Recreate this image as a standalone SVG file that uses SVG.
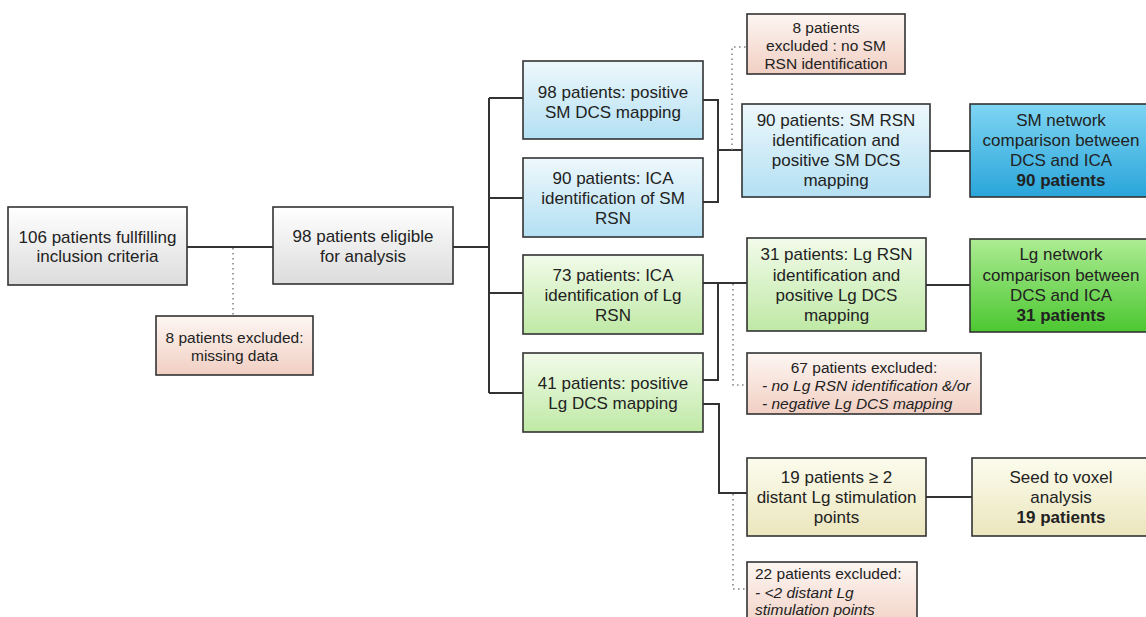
<svg xmlns="http://www.w3.org/2000/svg" width="1146" height="617" viewBox="0 0 1146 617">
<defs>
<linearGradient id="gGray" x1="0" y1="0" x2="0" y2="1"><stop offset="0" stop-color="#ffffff"/><stop offset="1" stop-color="#dcdcdc"/></linearGradient>
<linearGradient id="gBlue" x1="0" y1="0" x2="0" y2="1"><stop offset="0" stop-color="#eef8fc"/><stop offset="1" stop-color="#b3e0f3"/></linearGradient>
<linearGradient id="gBlueD" x1="0" y1="0" x2="0" y2="1"><stop offset="0" stop-color="#7fd5f3"/><stop offset="1" stop-color="#29a5da"/></linearGradient>
<linearGradient id="gGreen" x1="0" y1="0" x2="0" y2="1"><stop offset="0" stop-color="#f2fbea"/><stop offset="1" stop-color="#bfe9a5"/></linearGradient>
<linearGradient id="gGreenD" x1="0" y1="0" x2="0" y2="1"><stop offset="0" stop-color="#adec93"/><stop offset="1" stop-color="#4cc731"/></linearGradient>
<linearGradient id="gYellow" x1="0" y1="0" x2="0" y2="1"><stop offset="0" stop-color="#fcfcee"/><stop offset="1" stop-color="#ebe6bd"/></linearGradient>
<linearGradient id="gPink" x1="0" y1="0" x2="0" y2="1"><stop offset="0" stop-color="#fdf6f2"/><stop offset="1" stop-color="#f1cfc3"/></linearGradient>
</defs>
<style>
.box{stroke:#333;stroke-width:1.6}
.gray{fill:url(#gGray)}
.blue{fill:url(#gBlue)}
.blueD{fill:url(#gBlueD)}
.green{fill:url(#gGreen)}
.greenD{fill:url(#gGreenD)}
.yellow{fill:url(#gYellow)}
.pink{fill:url(#gPink)}
text{font-family:"Liberation Sans",Arial,sans-serif;fill:#222}
.t{font-size:17px;text-anchor:middle}
.s{font-size:15.5px;text-anchor:middle}
.sl{font-size:15.5px}
.i{font-style:italic}
.b{font-weight:bold}
.ln{fill:none;stroke:#333;stroke-width:2}
.dot{fill:none;stroke:#888;stroke-width:1.6;stroke-dasharray:1.6 3.4}
</style>
<rect width="1146" height="617" fill="#ffffff"/>
<g id="connectors">
<path class="ln" d="M187,247H273"/>
<path class="ln" d="M453,247H489"/>
<path class="ln" d="M489,98V393"/>
<path class="ln" d="M489,98H523M489,198H523M489,293H523M489,393H523"/>
<path class="ln" d="M703,100H718V202H703M718,150H742"/>
<path class="ln" d="M930,151H970"/>
<path class="ln" d="M703,283H747M718,283V380H703"/>
<path class="ln" d="M926,285H970"/>
<path class="ln" d="M703,404H719V493H747"/>
<path class="ln" d="M926,497H972"/>
<path class="dot" d="M233,248V316"/>
<path class="dot" d="M732,150V47H747"/>
<path class="dot" d="M733,284V385H747"/>
<path class="dot" d="M733,494V589H747"/>
</g>
<g id="n_inclusion"><rect class="box gray" x="8" y="207" width="179" height="78"/>
<text class="t" x="97.5" y="243">106 patients fullfilling</text><text class="t" x="97.5" y="262">inclusion criteria</text></g>
<g id="n_excl_missing"><rect class="box pink" x="156" y="316" width="157" height="59"/>
<text class="s" x="234.5" y="343">8 patients excluded:</text><text class="s" x="234.5" y="361">missing data</text></g>
<g id="n_eligible"><rect class="box gray" x="273" y="207" width="180" height="77"/>
<text class="t" x="363" y="242">98 patients eligible</text><text class="t" x="363" y="262">for analysis</text></g>
<g id="n_sm_dcs"><rect class="box blue" x="523" y="61" width="180" height="78"/>
<text class="t" x="613" y="98">98 patients: positive</text><text class="t" x="613" y="118">SM DCS mapping</text></g>
<g id="n_sm_ica"><rect class="box blue" x="523" y="158" width="180" height="79"/>
<text class="t" x="613" y="184">90 patients: ICA</text><text class="t" x="613" y="204">identification of SM</text><text class="t" x="613" y="224">RSN</text></g>
<g id="n_lg_ica"><rect class="box green" x="523" y="255" width="180" height="79"/>
<text class="t" x="613" y="281">73 patients: ICA</text><text class="t" x="613" y="301">identification of Lg</text><text class="t" x="613" y="321">RSN</text></g>
<g id="n_lg_dcs"><rect class="box green" x="523" y="353" width="180" height="79"/>
<text class="t" x="613" y="389">41 patients: positive</text><text class="t" x="613" y="409">Lg DCS mapping</text></g>
<g id="n_excl_sm"><rect class="box pink" x="747" y="14" width="158" height="60"/>
<text class="s" x="826" y="33">8 patients</text><text class="s" x="826" y="51">excluded : no SM</text><text class="s" x="826" y="69">RSN identification</text></g>
<g id="n_sm_both"><rect class="box blue" x="742" y="104" width="188" height="93"/>
<text class="t" x="836" y="126">90 patients: SM RSN</text><text class="t" x="836" y="146">identification and</text><text class="t" x="836" y="166">positive SM DCS</text><text class="t" x="836" y="186">mapping</text></g>
<g id="n_sm_comp"><rect class="box blueD" x="970" y="104" width="180" height="93"/>
<text class="t" x="1061" y="126">SM network</text><text class="t" x="1061" y="146">comparison between</text><text class="t" x="1061" y="166">DCS and ICA</text><text class="t b" x="1061" y="186">90 patients</text></g>
<g id="n_lg_both"><rect class="box green" x="747" y="238" width="179" height="93"/>
<text class="t" x="836.5" y="260">31 patients: Lg RSN</text><text class="t" x="836.5" y="281">identification and</text><text class="t" x="836.5" y="301">positive Lg DCS</text><text class="t" x="836.5" y="321">mapping</text></g>
<g id="n_lg_comp"><rect class="box greenD" x="970" y="239" width="180" height="93"/>
<text class="t" x="1061" y="260">Lg network</text><text class="t" x="1061" y="281">comparison between</text><text class="t" x="1061" y="301">DCS and ICA</text><text class="t b" x="1061" y="321">31 patients</text></g>
<g id="n_excl_lg"><rect class="box pink" x="747" y="353" width="234" height="61"/>
<text class="s" x="864" y="373">67 patients excluded:</text><text class="sl i" x="762" y="391">- no Lg RSN identification &amp;/or</text><text class="sl i" x="762" y="409">- negative Lg DCS mapping</text></g>
<g id="n_lg_points"><rect class="box yellow" x="747" y="458" width="179" height="78"/>
<text class="t" x="836.5" y="483">19 patients ≥ 2</text><text class="t" x="836.5" y="503">distant Lg stimulation</text><text class="t" x="836.5" y="523">points</text></g>
<g id="n_seed"><rect class="box yellow" x="972" y="458" width="178" height="78"/>
<text class="t" x="1061" y="483">Seed to voxel</text><text class="t" x="1061" y="503">analysis</text><text class="t b" x="1061" y="523">19 patients</text></g>
<g id="n_excl_points"><rect class="box pink" x="747" y="562" width="170" height="70"/>
<text class="sl" x="755" y="579">22 patients excluded:</text><text class="sl i" x="755" y="598">- &lt;2 distant Lg</text><text class="sl i" x="755" y="615">stimulation points</text></g>
</svg>
